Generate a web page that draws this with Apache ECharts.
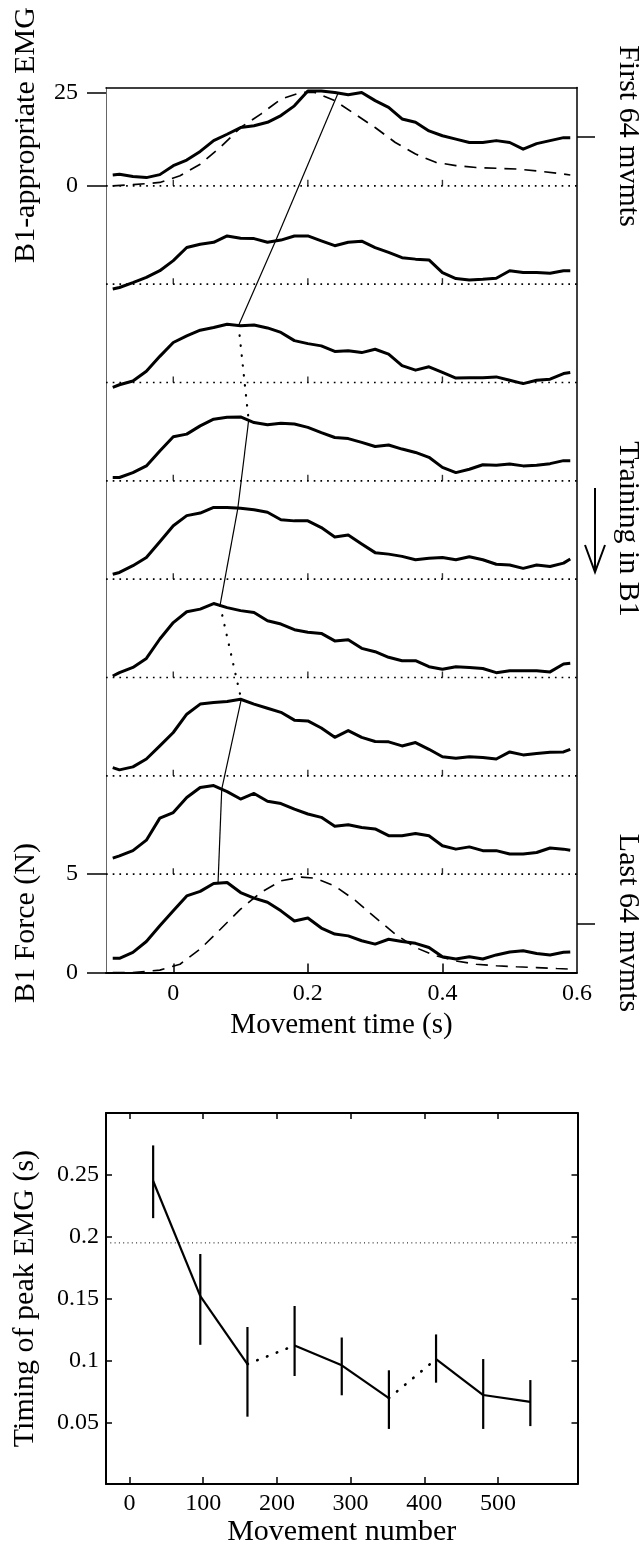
<!DOCTYPE html>
<html><head><meta charset="utf-8">
<script src="https://cdn.jsdelivr.net/npm/echarts@6/dist/echarts.min.js"></script>
<style>html,body{margin:0;padding:0;background:#fff}#c{width:641px;height:1548px}</style>
</head><body><div id="c"></div>
<script>
// ---------- DATA ----------
// time grid (s) for the EMG traces
const tGrid = [-0.09,-0.08,-0.06,-0.04,-0.02,0,0.02,0.04,0.06,0.08,0.10,0.12,0.14,0.16,0.18,0.20,0.22,0.24,0.26,0.28,0.30,0.32,0.34,0.36,0.38,0.40,0.42,0.44,0.46,0.48,0.50,0.52,0.54,0.56,0.58,0.59];
// B1-appropriate EMG, blocks of 64 movements (first -> last)
const emg1 = [2.9,3.1,2.5,2.2,3.0,5.4,6.9,9.2,12.1,13.8,15.6,16.1,17.0,18.8,21.4,25.4,25.4,25.0,24.4,25.0,22.8,21.0,17.9,17.0,14.7,13.4,12.5,11.6,11.6,12.1,11.6,9.8,11.3,12.1,12.9,12.9];
const emg2 = [-1.3,-0.9,0.4,1.8,3.6,6.3,9.8,10.7,11.2,12.9,12.3,12.2,11.2,11.8,12.9,12.9,11.6,10.3,11.2,11.5,9.8,8.5,7.1,6.7,6.5,3.1,1.5,1.1,1.3,1.6,3.6,3.1,3.1,2.9,3.6,3.6];
const emg3 = [-1.3,-0.6,0.4,3.0,7.0,10.7,12.5,14.0,14.7,15.6,15.2,15.4,14.6,13.4,11.2,10.4,9.8,8.3,8.5,8.0,8.9,7.6,4.5,3.3,4.2,2.7,1.2,1.3,1.3,1.5,0.6,-0.3,0.6,0.9,2.4,2.7];
const emg4 = [0.9,0.9,2.2,4.0,8.0,11.8,12.5,14.7,16.5,17.0,17.1,15.6,15.0,15.4,15.2,14.3,12.9,11.6,11.3,10.3,9.2,9.6,8.5,7.6,6.3,3.6,2.2,3.1,4.3,4.2,4.5,4.0,4.2,4.6,5.4,5.4];
const emg5 = [1.3,1.8,3.6,5.8,10.0,14.3,17.0,17.7,19.2,19.2,19.0,18.6,17.9,15.9,15.6,15.6,13.8,11.3,11.8,9.4,7.1,6.7,6.1,5.2,5.6,5.8,5.2,6.0,5.2,4.0,3.8,2.9,3.8,3.4,4.3,5.4];
const emg6 = [0.4,1.3,2.7,5.1,10.3,14.7,17.6,18.3,19.8,18.7,17.9,17.4,15.2,14.3,12.8,12.1,11.8,9.8,10.1,7.8,6.9,5.4,4.5,4.5,2.9,2.2,2.9,2.7,2.4,1.3,1.8,1.8,1.8,1.5,3.6,3.8];
const emg7 = [2.2,1.6,2.4,4.5,8.0,11.6,16.5,19.2,19.6,19.9,20.5,19.2,18.1,17.0,14.9,14.7,12.8,10.3,12.1,10.3,9.2,9.1,8.0,8.9,7.1,5.1,4.7,5.1,4.9,4.5,6.4,5.6,6.0,6.3,6.4,7.1];
const emg8 = [4.3,4.9,6.3,9.1,15.0,16.5,20.5,23.2,23.7,22.1,20.1,21.6,19.5,18.9,17.4,16.1,15.2,12.8,13.2,12.5,12.1,10.3,10.3,10.9,10.3,7.6,6.7,7.3,6.3,6.3,5.4,5.4,5.8,7.0,6.7,6.4];
const emg9 = [3.8,3.8,5.4,8.3,12.5,16.5,20.5,21.7,23.8,24.1,21.4,19.9,18.8,16.5,13.8,14.6,11.9,10.3,9.8,8.5,7.6,8.9,8.3,7.8,6.7,4.2,3.6,4.2,3.6,4.7,5.5,5.8,5.1,4.7,5.4,5.5];
const emgTraces = [emg1, emg2, emg3, emg4, emg5, emg6, emg7, emg8, emg9];
// dashed templates: appropriate EMG (top) and B1 force in N (bottom)
const dashT = [-0.09,-0.06,-0.02,0.01,0.04,0.07,0.10,0.13,0.16,0.19,0.21,0.24,0.27,0.30,0.33,0.36,0.39,0.42,0.45,0.48,0.51,0.54,0.57,0.59];
const dashEmg = [0,0.3,0.9,2.7,5.8,10.3,15.6,19.2,23.2,25,25,22.8,19.2,15.6,11.6,8.5,6.3,5.4,4.9,4.7,4.5,4.0,3.4,2.9];
const dashForce = [0,0,0.12,0.42,1.19,2.2,3.22,4.07,4.66,4.85,4.8,4.4,3.68,2.8,1.95,1.27,0.85,0.59,0.42,0.34,0.29,0.25,0.2,0.17];
// tick labels
const timeTicks = [0, 0.2, 0.4, 0.6];
const emgTicks = [0, 25];
const forceTicks = [0, 5];
const moveTicks = [0, 100, 200, 300, 400, 500];
const timingTicks = [0.05, 0.1, 0.15, 0.2, 0.25];
// bottom panel: timing of peak EMG per block
const blockMid = [32, 96, 160, 224, 288, 352, 416, 480, 544];
const peakTiming = [0.245, 0.152, 0.097, 0.112, 0.096, 0.0695, 0.101, 0.072, 0.0665];
const errLow = [0.215, 0.1126, 0.0545, 0.0874, 0.0718, 0.0446, 0.082, 0.0446, 0.0469];
const errHigh = [0.2738, 0.186, 0.127, 0.144, 0.1185, 0.092, 0.121, 0.1011, 0.0841];
const refTiming = 0.195;
const linkType = ['solid','solid','dotted','solid','solid','dotted','solid','solid'];

// ---------- LAYOUT / SCALE ----------
const FONT = '"Liberation Serif", "Times New Roman", serif';
const STEP = 5;                 // vertical offset between traces (axis units = N)
const EMG_K = 4.75 / 25;        // EMG units -> axis units
const N = emgTraces.length;
const offsetOf = i => (N - 1 - i) * STEP;
const topBase = offsetOf(0);

function interp(ts, vs, t) {
  for (let i = 0; i < ts.length - 1; i++) {
    if (t >= ts[i] && t <= ts[i + 1]) {
      const f = (t - ts[i]) / (ts[i + 1] - ts[i]);
      return vs[i] + f * (vs[i + 1] - vs[i]);
    }
  }
  return vs[vs.length - 1];
}

const series = [];
// dotted zero lines for each trace
for (let i = 0; i < N - 1; i++) {
  const o = offsetOf(i);
  series.push({type:'line', xAxisIndex:0, yAxisIndex:0, silent:true, showSymbol:false, z:1,
    data:[[-0.1, o],[0.6, o]], lineStyle:{color:'#000', width:1.7, type:[1.7, 5]}});
  series.push({type:'scatter', xAxisIndex:0, yAxisIndex:0, silent:true, z:1,
    symbol:'rect', symbolSize:[1.4, 6], symbolOffset:[0, -3], itemStyle:{color:'#000'},
    data:[0, 0.2, 0.4].map(t => [t, o])});
}
// dashed templates
series.push({type:'line', xAxisIndex:0, yAxisIndex:0, showSymbol:false, z:2,
  data: dashT.map((t, k) => [t, topBase + dashEmg[k] * EMG_K]),
  lineStyle:{color:'#000', width:1.7, type:[12, 8]}});
series.push({type:'line', xAxisIndex:0, yAxisIndex:0, showSymbol:false, z:2,
  data: dashT.map((t, k) => [t, dashForce[k]]),
  lineStyle:{color:'#000', width:1.6, type:[12, 8]}});
// EMG traces
emgTraces.forEach((tr, i) => {
  series.push({type:'line', xAxisIndex:0, yAxisIndex:0, showSymbol:false, z:3,
    data: tGrid.map((t, k) => [t, offsetOf(i) + tr[k] * EMG_K]),
    lineStyle:{color:'#000', width:3, join:'round'}});
});
// peak-timing line across traces
const peakPts = peakTiming.map((t, i) => [t, offsetOf(i) + interp(tGrid, emgTraces[i], t) * EMG_K]);
for (let k = 0; k < N - 1; k++) {
  const dotted = linkType[k] === 'dotted';
  series.push({type:'line', xAxisIndex:0, yAxisIndex:0, showSymbol:false, z:4,
    data:[peakPts[k], peakPts[k + 1]],
    lineStyle: dotted ? {color:'#000', width:2.2, type:[0.5, 9.5], cap:'round'} : {color:'#000', width:1.2}});
}

// bottom panel
series.push({type:'line', xAxisIndex:2, yAxisIndex:2, showSymbol:false, silent:true,
  data:[[-32, refTiming],[608, refTiming]], lineStyle:{color:'#000', width:1, type:[1, 3.3]}});
series.push({type:'custom', xAxisIndex:2, yAxisIndex:2,
  data: blockMid.map((x, i) => [x, errLow[i], errHigh[i]]),
  encode:{x:0, y:[1, 2]},
  renderItem: (params, api) => {
    const p1 = api.coord([api.value(0), api.value(1)]);
    const p2 = api.coord([api.value(0), api.value(2)]);
    return {type:'line', shape:{x1:p1[0], y1:p1[1], x2:p2[0], y2:p2[1]}, style:{stroke:'#000', lineWidth:2.2}};
  }});
for (let k = 0; k < blockMid.length - 1; k++) {
  const dotted = linkType[k] === 'dotted';
  series.push({type:'line', xAxisIndex:2, yAxisIndex:2, showSymbol:false,
    data:[[blockMid[k], peakTiming[k]], [blockMid[k + 1], peakTiming[k + 1]]],
    lineStyle: dotted ? {color:'#000', width:2.6, type:[0.5, 10], cap:'round'} : {color:'#000', width:2.2}});
}

const lbl = {color:'#000', fontFamily:FONT, fontSize:24};
const leftTickVals = forceTicks.concat(emgTicks.map(v => topBase + v * EMG_K));

const option = {
  animation:false,
  backgroundColor:'#fff',
  textStyle:{fontFamily:FONT, color:'#000'},
  grid:[
    {left:106, top:87.5, width:471, height:885},
    {left:106, top:1113, width:471.5, height:373.5}
  ],
  xAxis:[
    {type:'value', gridIndex:0, min:-0.1, max:0.6, position:'bottom',
     axisLine:{onZero:false, lineStyle:{color:'#000', width:2}},
     axisTick:{show:true, inside:true, length:9, customValues:[0, 0.2, 0.4], lineStyle:{color:'#000', width:1.5}},
     axisLabel:Object.assign({margin:9, customValues:timeTicks, formatter:v => String(v)}, lbl),
     splitLine:{show:false},
     name:'Movement time (s)', nameLocation:'middle', nameGap:34,
     nameTextStyle:{color:'#000', fontFamily:FONT, fontSize:29}},
    {type:'value', gridIndex:0, min:-0.1, max:0.6, position:'top',
     axisLine:{onZero:false, lineStyle:{color:'#000', width:1.5}}, axisTick:{show:false}, axisLabel:{show:false}, splitLine:{show:false}},
    {type:'value', gridIndex:1, min:-32, max:608, position:'bottom',
     axisLine:{onZero:false, lineStyle:{color:'#000', width:2}},
     axisTick:{show:true, inside:true, length:7, customValues:moveTicks, lineStyle:{color:'#000', width:1.5}},
     axisLabel:Object.assign({margin:8, customValues:moveTicks}, lbl),
     splitLine:{show:false},
     name:'Movement number', nameLocation:'middle', nameGap:28,
     nameTextStyle:{color:'#000', fontFamily:FONT, fontSize:30}},
    {type:'value', gridIndex:1, min:-32, max:608, position:'top',
     axisLine:{onZero:false, lineStyle:{color:'#000', width:2}},
     axisTick:{show:true, inside:true, length:6, customValues:moveTicks, lineStyle:{color:'#000', width:1.5}},
     axisLabel:{show:false}, splitLine:{show:false}}
  ],
  yAxis:[
    {type:'value', gridIndex:0, min:0, max:45, position:'left',
     axisLine:{show:true, onZero:false, lineStyle:{color:'#666', width:1}},
     axisTick:{show:true, inside:false, length:19, customValues:leftTickVals, lineStyle:{color:'#000', width:1.5}},
     axisLabel:Object.assign({margin:28, customValues:leftTickVals,
       formatter:v => v > topBase - 0.01 ? String(Math.round((v - topBase) / EMG_K)) : String(v)}, lbl),
     splitLine:{show:false}},
    {type:'value', gridIndex:0, min:0, max:45, position:'right',
     axisLine:{show:true, onZero:false, lineStyle:{color:'#000', width:1.5}},
     axisTick:{show:true, inside:false, length:18, customValues:[2.5, 42.5], lineStyle:{color:'#000', width:1.5}},
     axisLabel:{show:false}, splitLine:{show:false}},
    {type:'value', gridIndex:1, min:0, max:0.3, position:'left',
     axisLine:{show:true, onZero:false, lineStyle:{color:'#000', width:2}},
     axisTick:{show:true, inside:true, length:6, customValues:timingTicks, lineStyle:{color:'#000', width:1.5}},
     axisLabel:Object.assign({margin:7, customValues:timingTicks}, lbl),
     splitLine:{show:false},
     name:'Timing of peak EMG (s)', nameLocation:'middle', nameRotate:90, nameGap:66,
     nameTextStyle:{color:'#000', fontFamily:FONT, fontSize:30}},
    {type:'value', gridIndex:1, min:0, max:0.3, position:'right',
     axisLine:{show:true, onZero:false, lineStyle:{color:'#000', width:2}},
     axisTick:{show:true, inside:true, length:6, customValues:timingTicks, lineStyle:{color:'#000', width:1.5}},
     axisLabel:{show:false}, splitLine:{show:false}}
  ],
  graphic:[
    {type:'text', x:26, y:135, rotation:Math.PI/2,
     style:{text:'B1-appropriate EMG', font:'30px ' + FONT, fill:'#000', textAlign:'center', textVerticalAlign:'middle'}},
    {type:'text', x:26, y:923, rotation:Math.PI/2,
     style:{text:'B1 Force (N)', font:'30px ' + FONT, fill:'#000', textAlign:'center', textVerticalAlign:'middle'}},
    {type:'text', x:628, y:136, rotation:-Math.PI/2,
     style:{text:'First 64 mvmts', font:'30px ' + FONT, fill:'#000', textAlign:'center', textVerticalAlign:'middle'}},
    {type:'text', x:628, y:529, rotation:-Math.PI/2,
     style:{text:'Training in B1', font:'30px ' + FONT, fill:'#000', textAlign:'center', textVerticalAlign:'middle'}},
    {type:'text', x:628, y:923, rotation:-Math.PI/2,
     style:{text:'Last 64 mvmts', font:'30px ' + FONT, fill:'#000', textAlign:'center', textVerticalAlign:'middle'}},
    {type:'line', shape:{x1:595, y1:488, x2:595, y2:571}, style:{stroke:'#000', lineWidth:2}},
    {type:'polyline', shape:{points:[[585,545],[595,572],[605,545]]}, style:{stroke:'#000', lineWidth:2, fill:null}}
  ],
  series: series
};
const chart = echarts.init(document.getElementById('c'), null, {renderer:'canvas'});
chart.setOption(option);
</script></body></html>
